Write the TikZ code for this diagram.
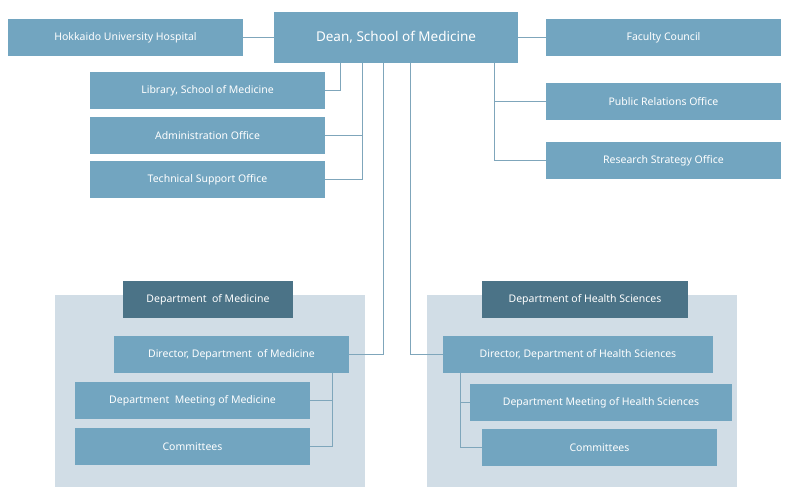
\documentclass[tikz,border=0pt]{standalone}
\usepackage{fontspec}
\setmainfont{Noto Sans}
\definecolor{boxc}{HTML}{72A5C0}
\definecolor{darkc}{HTML}{4B7387}
\definecolor{panelc}{HTML}{D1DDE6}
\definecolor{linec}{HTML}{7FA6BB}
\begin{document}
\begin{tikzpicture}[x=1pt,y=-1pt,
  bx/.style={fill=boxc,text=white,font=\fontsize{10.5}{12}\selectfont,inner sep=0pt},
  dk/.style={fill=darkc,text=white,font=\fontsize{10.5}{12}\selectfont,inner sep=0pt},
  ln/.style={draw=linec,line width=0.8pt}]
\useasboundingbox (0,0) rectangle (796,498);
\fill[panelc] (55,295) rectangle (365,487);
\fill[panelc] (427,295) rectangle (737,487);
\newcommand{\bxat}[7]{\node[#1,minimum width=#4-#2,minimum height=#5-#3] (#6) at ({(#2+#4)/2},{(#3+#5)/2}) {#7};}
\bxat{bx}{8}{19}{243}{56}{hosp}{Hokkaido University Hospital}
\node[bx,minimum width=244,minimum height=51,font=\fontsize{13.5}{15}\selectfont] (dean) at (396,37.5) {Dean, School of Medicine};
\bxat{bx}{546}{19}{781}{56}{fac}{Faculty Council}
\bxat{bx}{90}{72}{325}{109}{lib}{Library, School of Medicine}
\bxat{bx}{90}{117}{325}{154}{adm}{Administration Office}
\bxat{bx}{90}{161}{325}{198}{tech}{Technical Support Office}
\bxat{bx}{546}{83}{781}{120}{pr}{Public Relations Office}
\bxat{bx}{546}{142}{781}{179}{rs}{Research Strategy Office}
\bxat{dk}{123}{281}{293}{318}{dmed}{Department\ \ of Medicine}
\bxat{bx}{114}{336}{349}{373}{dirm}{Director, Department\ \ of Medicine}
\bxat{bx}{75}{382}{310}{419}{meetm}{Department\ \ Meeting of Medicine}
\bxat{bx}{75}{428}{310}{465}{comm}{Committees}
\bxat{dk}{482}{281}{688}{318}{dhs}{Department of Health Sciences}
\bxat{bx}{443}{336}{713}{373}{dirh}{Director, Department of Health Sciences}
\bxat{bx}{470}{384}{732}{421}{meeth}{Department Meeting of Health Sciences}
\bxat{bx}{482}{429}{717}{466}{comh}{Committees}
\draw[ln] (hosp.east) -- (dean.west|-hosp.east);
\draw[ln] (fac.west) -- (dean.east|-fac.west);
\draw[ln] (dean.south-|340,0) |- (lib.east);
\draw[ln] (dean.south-|362,0) |- (tech.east);
\draw[ln] (362,135.5) -- (adm.east);
\draw[ln] (dean.south-|383,0) |- (dirm.east);
\draw[ln] (dean.south-|410,0) |- (dirh.west);
\draw[ln] (dean.south-|494,0) |- (rs.west);
\draw[ln] (494,101.5) -- (pr.west);
\draw[ln] (dirm.south-|332,0) |- (comm.east);
\draw[ln] (332,400.5) -- (meetm.east);
\draw[ln] (dirh.south-|460,0) |- (comh.west);
\draw[ln] (460,402.5) -- (meeth.west);
\end{tikzpicture}
\end{document}
